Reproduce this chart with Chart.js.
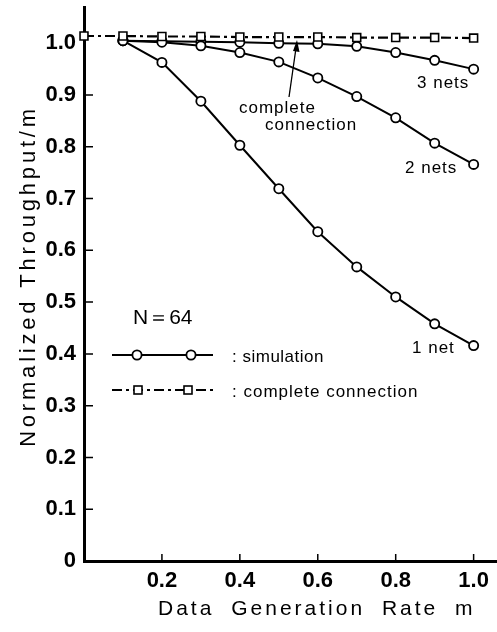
<!DOCTYPE html>
<html>
<head>
<meta charset="utf-8">
<script src="https://cdn.jsdelivr.net/npm/chart.js@4.4.1/dist/chart.umd.min.js"></script>
<style>
  body { margin: 0; background: #fff; }
  #wrap { width: 497px; height: 632px; }
</style>
</head>
<body>
<div id="wrap"><canvas id="myChart" width="497" height="632"></canvas></div>
<script>
'use strict';

// data
let rates = [0.0, 0.1, 0.2, 0.3, 0.4, 0.5, 0.6, 0.7, 0.8, 0.9, 1.0];
let completeConnection = [1.014, 1.014, 1.013, 1.013, 1.012, 1.012, 1.012, 1.011, 1.011, 1.011, 1.010];
let oneNet = [null, 1.005, 0.963, 0.888, 0.803, 0.719, 0.636, 0.568, 0.510, 0.458, 0.416];
let twoNets = [null, 1.005, 1.002, 0.995, 0.982, 0.964, 0.933, 0.897, 0.856, 0.807, 0.766];
let threeNets = [null, 1.005, 1.004, 1.003, 1.002, 1.000, 0.999, 0.994, 0.982, 0.967, 0.950];
let yTicks = [0, 0.1, 0.2, 0.3, 0.4, 0.5, 0.6, 0.7, 0.8, 0.9, 1.0];
let xTicks = [0.2, 0.4, 0.6, 0.8, 1.0];

const FONT = "'Liberation Sans', Arial, sans-serif";

function toPoints(values) {
    let pts = [];
    for (let i = 0; i < rates.length; i++) {
        if (values[i] !== null) {
            pts.push({ x: rates[i], y: values[i] });
        }
    }
    return pts;
}

function simStyle(values) {
    return {
        data: toPoints(values),
        borderColor: '#000',
        borderWidth: 2,
        pointStyle: 'circle',
        pointRadius: 4.6,
        pointBorderWidth: 1.8,
        pointBackgroundColor: '#fff',
        pointBorderColor: '#000',
        fill: false,
        tension: 0,
        clip: false
    };
}

// no extra room for labels at the ends, the plot box is fixed
function fixBox(scale, w, h) {
    if (w) scale.width = w;
    if (h) scale.height = h;
    scale.paddingLeft = 0;
    scale.paddingRight = 0;
    scale.paddingTop = 0;
    scale.paddingBottom = 0;
}

function drawText(ctx, text, x, y, size, spacing, weight) {
    ctx.save();
    ctx.font = (weight || 'normal') + ' ' + size + 'px ' + FONT;
    ctx.letterSpacing = (spacing || 0) + 'px';
    ctx.fillStyle = '#000';
    ctx.textAlign = 'left';
    ctx.textBaseline = 'middle';
    ctx.fillText(text, x, y);
    ctx.restore();
}

let paperPlugin = {
    id: 'paper',
    afterDraw(chart) {
        let ctx = chart.ctx;
        let xs = chart.scales.x;
        let ys = chart.scales.y;
        let area = chart.chartArea;

        // inward tick marks
        ctx.save();
        ctx.strokeStyle = '#000';
        ctx.lineWidth = 1.5;
        ctx.beginPath();
        for (let i = 1; i < yTicks.length - 1; i++) {
            let py = ys.getPixelForValue(yTicks[i]);
            ctx.moveTo(area.left, py);
            ctx.lineTo(area.left + 9, py);
        }
        for (let i = 0; i < xTicks.length; i++) {
            let px = xs.getPixelForValue(xTicks[i]);
            ctx.moveTo(px, area.bottom);
            ctx.lineTo(px, area.bottom - 7);
        }
        ctx.stroke();
        ctx.restore();

        // curve labels
        drawText(ctx, '3 nets', 417, 83, 17, 1);
        drawText(ctx, '2 nets', 405, 168, 17, 1);
        drawText(ctx, '1 net', 412, 348, 17, 1);
        drawText(ctx, 'complete', 239, 108, 17, 1);
        drawText(ctx, 'connection', 265, 125, 17, 1);

        // arrow to the complete connection line
        ctx.save();
        ctx.strokeStyle = '#000';
        ctx.fillStyle = '#000';
        ctx.lineWidth = 1.3;
        ctx.beginPath();
        ctx.moveTo(289, 97);
        ctx.lineTo(296, 48);
        ctx.stroke();
        ctx.beginPath();
        ctx.moveTo(297, 40);
        ctx.lineTo(293, 51);
        ctx.lineTo(299.5, 52);
        ctx.closePath();
        ctx.fill();
        ctx.restore();

        // legend block
        drawText(ctx, 'N\uFF1D64', 133, 318, 21, 0);

        ctx.save();
        ctx.strokeStyle = '#000';
        ctx.lineWidth = 2;
        ctx.beginPath();
        ctx.moveTo(112, 355);
        ctx.lineTo(213, 355);
        ctx.stroke();
        ctx.fillStyle = '#fff';
        ctx.lineWidth = 1.8;
        [137, 191].forEach(function (cx) {
            ctx.beginPath();
            ctx.arc(cx, 355, 4.6, 0, Math.PI * 2);
            ctx.fill();
            ctx.stroke();
        });
        ctx.lineWidth = 2.2;
        ctx.setLineDash([10, 4, 3, 4]);
        ctx.beginPath();
        ctx.moveTo(112, 390);
        ctx.lineTo(213, 390);
        ctx.stroke();
        ctx.setLineDash([]);
        ctx.lineWidth = 1.6;
        [138, 188].forEach(function (cx) {
            ctx.fillRect(cx - 4, 386, 8, 8);
            ctx.strokeRect(cx - 4, 386, 8, 8);
        });
        ctx.restore();
        drawText(ctx, ': simulation', 232, 357, 17, 0.5);
        drawText(ctx, ': complete connection', 232, 392, 17, 1);

        // axis titles
        ctx.save();
        ctx.font = '21px ' + FONT;
        ctx.letterSpacing = '3px';
        ctx.wordSpacing = '8px';
        ctx.fillStyle = '#000';
        ctx.textAlign = 'left';
        ctx.textBaseline = 'middle';
        ctx.fillText('Data Generation Rate m', 158, 609);
        ctx.restore();

        ctx.save();
        ctx.translate(29, 276);
        ctx.rotate(-Math.PI / 2);
        ctx.font = '22px ' + FONT;
        ctx.letterSpacing = '3.8px';
        ctx.fillStyle = '#000';
        ctx.textAlign = 'center';
        ctx.textBaseline = 'middle';
        ctx.fillText('Normalized Throughput/m', 0, 0);
        ctx.restore();
    }
};

let ctx = document.getElementById('myChart').getContext('2d');

let myChart = new Chart(ctx, {
    type: 'line',
    data: {
        datasets: [
            {
                label: 'complete connection',
                data: toPoints(completeConnection),
                borderColor: '#000',
                borderWidth: 2.2,
                borderDash: [10, 4, 3, 4],
                pointStyle: 'rect',
                pointRadius: 5.6,
                pointBorderWidth: 1.6,
                pointBackgroundColor: '#fff',
                pointBorderColor: '#000',
                fill: false,
                clip: false
            },
            Object.assign({ label: '1 net' }, simStyle(oneNet)),
            Object.assign({ label: '2 nets' }, simStyle(twoNets)),
            Object.assign({ label: '3 nets' }, simStyle(threeNets))
        ]
    },
    options: {
        responsive: false,
        animation: false,
        layout: { autoPadding: false, padding: { top: 7, right: 0, bottom: 0, left: 0 } },
        plugins: {
            legend: { display: false },
            tooltip: { enabled: false }
        },
        scales: {
            x: {
                type: 'linear',
                min: 0,
                max: 1.06,
                afterBuildTicks: function (scale) {
                    scale.ticks = xTicks.map(function (v) { return { value: v }; });
                },
                afterFit: function (scale) { fixBox(scale, 0, 71); },
                grid: { display: false, drawTicks: false },
                border: { display: true, color: '#000', width: 3 },
                ticks: {
                    color: '#000',
                    padding: 7,
                    font: { family: FONT, size: 22, weight: 'bold' },
                    maxRotation: 0,
                    callback: function (v) { return v.toFixed(1); }
                }
            },
            y: {
                type: 'linear',
                min: 0,
                max: 1.07,
                afterBuildTicks: function (scale) {
                    scale.ticks = yTicks.map(function (v) { return { value: v }; });
                },
                afterFit: function (scale) { fixBox(scale, 84, 0); },
                grid: { display: false, drawTicks: false },
                border: { display: true, color: '#000', width: 3 },
                ticks: {
                    color: '#000',
                    padding: 8,
                    font: { family: FONT, size: 22, weight: 'bold' },
                    callback: function (v) { return v === 0 ? '0' : v.toFixed(1); }
                }
            }
        }
    },
    plugins: [paperPlugin]
});
</script>
</body>
</html>
